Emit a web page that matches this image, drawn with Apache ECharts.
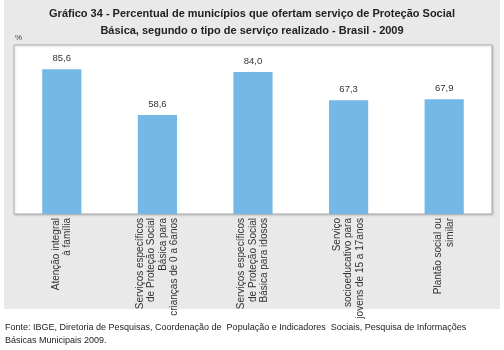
<!DOCTYPE html>
<html><head><meta charset="utf-8">
<script src="https://cdn.jsdelivr.net/npm/echarts@6/dist/echarts.min.js"></script>
<style>html,body{margin:0;padding:0;background:#fff}#c{width:504px;height:350px}</style>
</head><body><div id="c"></div>
<script>
const categories = [
  "Atenção integral\nà família",
  "Serviços específicos\nde Proteção Social\nBásica para\ncrianças de 0 a 6anos",
  "Serviços específicos\nde Proteção Social\nBásica para idosos",
  "Serviço\nsocioeducativo para\njovens de 15 a 17anos",
  "Plantão social ou\nsimilar"
];
const values = [85.6, 58.6, 84.0, 67.3, 67.9];
const titleLines = "Gráfico 34 - Percentual de municípios que ofertam serviço de Proteção Social\nBásica, segundo o tipo de serviço realizado - Brasil - 2009";
const sourceText = "Fonte: IBGE, Diretoria de Pesquisas, Coordenação de  População e Indicadores  Sociais, Pesquisa de Informações\nBásicas Municipais 2009.";
const unitLabel = "%";

const chart = echarts.init(document.getElementById('c'), null, {renderer: 'canvas'});
chart.setOption({
  backgroundColor: '#ffffff',
  animation: false,
  graphic: [
    {type: 'rect', shape: {x: 4, y: 0, width: 496, height: 309}, style: {fill: '#e9e9e9'}, z: -10},
    {type: 'text', left: 'center', top: 5, style: {text: titleLines, font: 'bold 11px "Liberation Sans", Arial, sans-serif', fill: '#222', textAlign: 'center', lineHeight: 17}},
    {type: 'text', left: 15, top: 34, style: {text: unitLabel, font: '8px "Liberation Sans", Arial, sans-serif', fill: '#444'}},
    {type: 'text', left: 5, top: 321, style: {text: sourceText, font: '9px "Liberation Sans", Arial, sans-serif', fill: '#222', lineHeight: 13}}
  ],
  grid: {left: 14, right: 12, top: 45, bottom: 136, show: true, backgroundColor: '#fff', borderColor: '#aaa', borderWidth: 1, shadowColor: 'rgba(0,0,0,0.15)', shadowBlur: 2, shadowOffsetX: 1, shadowOffsetY: 1},
  xAxis: {
    type: 'category', data: categories,
    axisLine: {show: false}, axisTick: {show: false},
    axisLabel: {rotate: 90, interval: 0, margin: 4, fontSize: 10, lineHeight: 11.5, color: '#333', fontFamily: '"Liberation Sans", Arial, sans-serif'}
  },
  yAxis: {type: 'value', min: 0, max: 100, show: false, splitLine: {show: false}},
  series: [{
    type: 'bar', data: values, barWidth: '41%',
    itemStyle: {color: '#74b9e6'},
    label: {show: true, position: 'top', distance: 6, fontSize: 9.5, color: '#333', fontFamily: '"Liberation Sans", Arial, sans-serif',
      formatter: p => p.value.toFixed(1).replace('.', ',')}
  }]
});
</script></body></html>
